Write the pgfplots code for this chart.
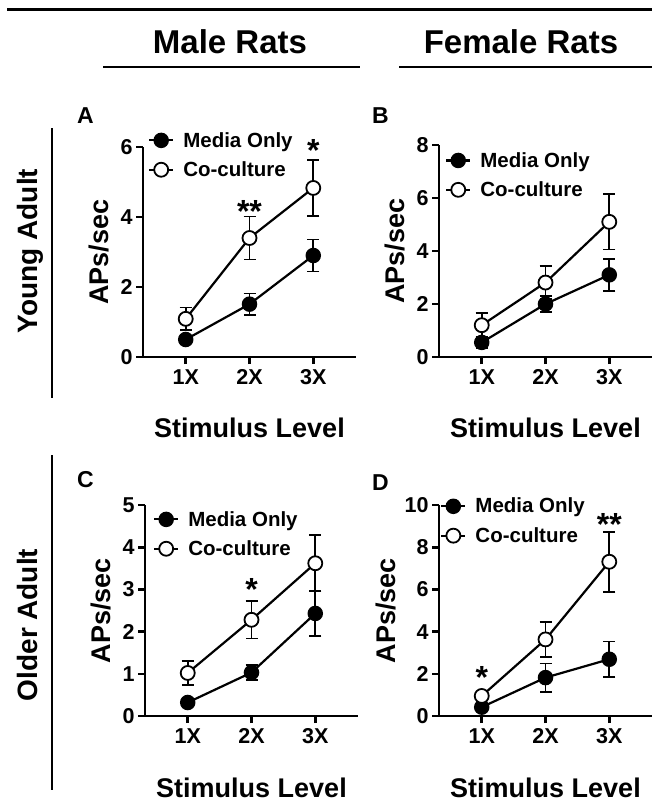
\documentclass[border=0pt]{standalone}
\usepackage{fontspec}
\setmainfont{Liberation Sans}
\usepackage{pgfplots}
\pgfplotsset{compat=1.18}
\newcommand\fs[1]{\fontsize{#1}{#1}\selectfont\bfseries}

\pgfplotsset{
 panel/.style={
  scale only axis, width=213pt, height=210pt,
  xmin=0.33, xmax=3.67, ymin=0,
  axis x line*=bottom, axis y line*=left,
  axis line style={line width=2.6pt, -},
  xtick={1,2,3}, xticklabels={1X,2X,3X},
  tick align=outside, major tick length=7pt,
  tick style={line width=2.6pt, black},
  ticklabel style={font=\fs{21.5}},
  xticklabel style={yshift=-2pt},
  /pgf/number format/assume math mode=true,
  xlabel={Stimulus Level}, ylabel={APs/sec},
  label style={font=\fs{27}},
  xlabel style={at={(axis description cs:0.5,0)}, anchor=base, yshift=-80pt},
  ylabel style={at={(axis description cs:-0.205,0.5)}, anchor=center},
  clip=false,
  legend style={draw=none, fill=none, font=\fs{20.5}, inner sep=0pt, row sep=9pt, anchor=north west,
    /tikz/every odd column/.append style={column sep=7pt}},
  legend cell align=left,
  legend image code/.code={\draw[mark repeat=2, mark phase=2] plot coordinates {(0pt,0pt) (12pt,0pt) (24pt,0pt)};},
 },
 media/.style={black, line width=2.2pt, mark=*, mark size=7pt, mark options={fill=black, line width=1.5pt},
   error bars/.cd, y dir=both, y explicit, error bar style={line width=1.6pt, black},
   error mark options={rotate=90, mark size=6pt, line width=1.6pt, black}},
 co/.style={black, line width=2.2pt, mark=*, mark size=7pt, mark options={fill=white, line width=1.8pt},
   error bars/.cd, y dir=both, y explicit, error bar style={line width=1.6pt, black},
   error mark options={rotate=90, mark size=6pt, line width=1.6pt, black}},
}

\begin{document}
\begin{tikzpicture}
\useasboundingbox (0pt,0pt) rectangle (652pt,-800pt);

% header
\draw[line width=3pt] (7pt,-9.3pt) -- (652pt,-9.3pt);
\node[anchor=base, font=\fs{33}] at (230pt,-54pt) {Male Rats};
\node[anchor=base, font=\fs{33}] at (521pt,-54pt) {Female Rats};
\draw[line width=2.5pt] (103pt,-67pt) -- (360pt,-67pt);
\draw[line width=2.5pt] (399pt,-67pt) -- (652pt,-67pt);

% row labels
\node[rotate=90, anchor=base, font=\fs{28}] at (37pt,-251pt) {Young Adult};
\draw[line width=2.5pt] (52pt,-128pt) -- (52pt,-398pt);
\node[rotate=90, anchor=base, font=\fs{28}] at (37pt,-625pt) {Older Adult};
\draw[line width=2.5pt] (52pt,-455pt) -- (52pt,-790pt);

% panel letters
\node[anchor=base west, font=\fs{23}, inner sep=0pt] at (77pt,-123pt) {A};
\node[anchor=base west, font=\fs{23}, inner sep=0pt] at (372pt,-123pt) {B};
\node[anchor=base west, font=\fs{23}, inner sep=0pt] at (77pt,-487pt) {C};
\node[anchor=base west, font=\fs{23}, inner sep=0pt] at (372pt,-490pt) {D};

% Panel A
\begin{axis}[panel, at={(143pt,-357pt)}, anchor=south west, height=210pt, ymax=6, ytick={0,2,4,6},
  legend style={at={(axis description cs:0.023,1.081)}}]
\addplot+[media] table[x=x, y=y, y error=e] {
x y e
1 0.50 0.08
2 1.51 0.31
3 2.90 0.46
};
\addlegendentry{Media Only}
\addplot+[co] table[x=x, y=y, y error=e] {
x y e
1 1.09 0.32
2 3.40 0.61
3 4.83 0.80
};
\addlegendentry{Co-culture}
\node[anchor=base, yshift=-17pt, font=\fs{32}] at (axis cs:2,4.34) {**};
\node[anchor=base, yshift=-17pt, font=\fs{32}] at (axis cs:3,6.06) {*};
\end{axis}

% Panel B
\begin{axis}[panel, at={(439pt,-357pt)}, anchor=south west, height=212pt, ymax=8, ytick={0,2,4,6,8},
  legend style={at={(axis description cs:0.028,0.976)}}]
\addplot+[media] table[x=x, y=y, y error=e] {
x y e
1 0.55 0.20
2 2.00 0.30
3 3.10 0.60
};
\addlegendentry{Media Only}
\addplot+[co] table[x=x, y=y, y error=e] {
x y e
1 1.20 0.47
2 2.81 0.62
3 5.10 1.04
};
\addlegendentry{Co-culture}
\end{axis}

% Panel C
\begin{axis}[panel, at={(145pt,-716pt)}, anchor=south west, height=211pt, ymax=5, ytick={0,1,2,3,4,5},
  xlabel style={yshift=-1pt},
  legend style={at={(axis description cs:0.037,0.981)}}]
\addplot+[media] table[x=x, y=y, y error=e] {
x y e
1 0.32 0.05
2 1.03 0.18
3 2.43 0.54
};
\addlegendentry{Media Only}
\addplot+[co] table[x=x, y=y, y error=e] {
x y e
1 1.02 0.28
2 2.28 0.44
3 3.62 0.67
};
\addlegendentry{Co-culture}
\node[anchor=base, yshift=-17pt, font=\fs{32}] at (axis cs:2,3.15) {*};
\end{axis}

% Panel D
\begin{axis}[panel, at={(439pt,-716pt)}, anchor=south west, height=211pt, ymax=10, ytick={0,2,4,6,8,10},
  xlabel style={yshift=-1pt},
  ylabel style={at={(axis description cs:-0.25,0.5)}},
  legend style={at={(axis description cs:0.005,1.043)}}]
\addplot+[media] table[x=x, y=y, y error=e] {
x y e
1 0.42 0.10
2 1.82 0.67
3 2.69 0.85
};
\addlegendentry{Media Only}
\addplot+[co] table[x=x, y=y, y error=e] {
x y e
1 0.95 0.22
2 3.63 0.82
3 7.31 1.42
};
\addlegendentry{Co-culture}
\node[anchor=base, yshift=-17pt, font=\fs{32}] at (axis cs:1,2.1) {*};
\node[anchor=base, yshift=-17pt, font=\fs{32}] at (axis cs:3,9.37) {**};
\end{axis}
\end{tikzpicture}
\end{document}
